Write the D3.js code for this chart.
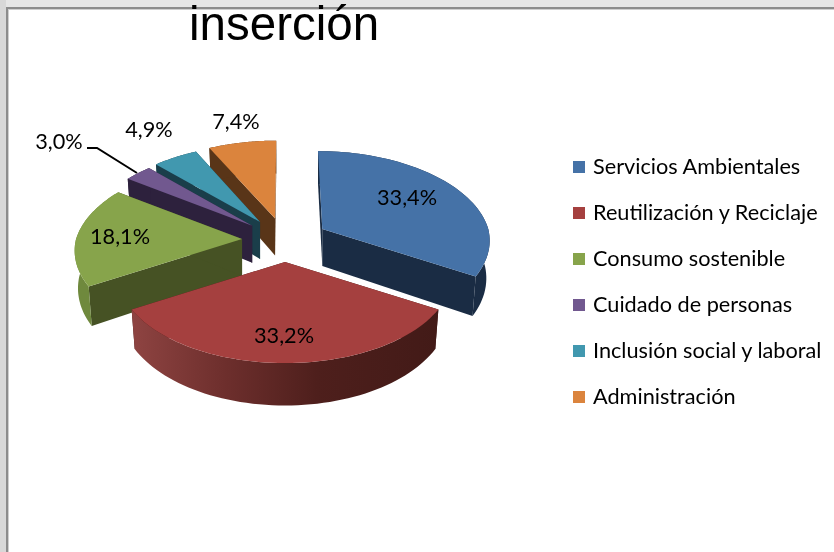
<!DOCTYPE html>
<html><head><meta charset="utf-8">
<script src="https://cdnjs.cloudflare.com/ajax/libs/d3/7.8.5/d3.min.js"></script>
<style>html,body{margin:0;padding:0;background:#fff}svg{display:block;filter:blur(0.4px)}</style>
</head><body><svg id="c" width="834" height="552"></svg>
<script>
const categories = ["Servicios Ambientales","Reutilización y Reciclaje","Consumo sostenible","Cuidado de personas","Inclusión social y laboral","Administración"];
const values = [33.4,33.2,18.1,3.0,4.9,7.4];
const valueLabels = ["33,4%","33,2%","18,1%","3,0%","4,9%","7,4%"];
const topColors = ["#4572A7","#A5403F","#87A44B","#71588F","#4198AF","#DB843D"];
const sideColors = ["#1A2C44","#431A17","#465224","#2D213D","#1A3E4A","#593518"];
const wallColors = ["#1A2C44","url(#redWall)","#6F893D","#2D213D","#1A3E4A","#593518"];
const title = "inserción";
const labelAnchors = [[407,198],[284,336],[120,237],[59,142],[149,130],[236,122]];
const drawOrder = [5,4,3,2,0,1];

const svg = d3.select("#c");
const defs = svg.append("defs");
const g = defs.append("linearGradient").attr("id","redWall").attr("gradientUnits","userSpaceOnUse")
  .attr("x1",-155).attr("x2",157).attr("y1",0).attr("y2",0);
[[0,"#8F4442"],[0.3,"#6E2F2D"],[0.6,"#4E1F1C"],[1,"#421A17"]].forEach(s=>g.append("stop").attr("offset",s[0]).attr("stop-color",s[1]));

// window chrome
svg.append("rect").attr("width",834).attr("height",7).attr("fill","#E6E6E6");
svg.append("rect").attr("width",6).attr("height",552).attr("fill","#D8D8D8");
svg.append("rect").attr("x",8).attr("y",9).attr("width",826).attr("height",1).attr("fill","#CFCFCF");
svg.append("rect").attr("x",8).attr("y",9).attr("width",1).attr("height",543).attr("fill","#CFCFCF");
svg.append("rect").attr("x",6).attr("y",7).attr("width",2).attr("height",545).attr("fill","#8C8C8C");
svg.append("rect").attr("x",6).attr("y",7).attr("width",828).attr("height",2).attr("fill","#8C8C8C");

// pie in perspective
const cx=285, cy=240, R=166, Ry=88, k=0.129, depth=37, Ex=43, Ey=22, bottomShrink=0.98;
const pie = d3.pie().sort(null).value(d=>d)(values);
const proj=(a,r,level,dx)=>{ // a: clockwise from 12 o'clock, r: 0..1, level: 0 top, 1 bottom
  const u=Math.sin(a)*r, v=-Math.cos(a)*r, w=1/(1-k*v);
  const sh=level?bottomShrink:1;
  return [R*u*w*sh + dx*(Math.min(w,1)-1), Ry*v*w+level*depth*w];
};
const line=d3.line();
pie.forEach(p=>{p.mid=(p.startAngle+p.endAngle)/2;
  p.dx=Ex*Math.sin(p.mid); p.ox=cx+p.dx; p.oy=cy-Ey*Math.cos(p.mid);});
const sample=(p)=>d3.range(0,61).map(i=>p.startAngle+(p.endAngle-p.startAngle)*i/60);

const layer=svg.append("g");
drawOrder.forEach(i=>{
  const p=pie[i], s=layer.append("g").attr("transform",`translate(${p.ox},${p.oy})`);
  const A=sample(p);
  const face=a=>[proj(a,0,0,p.dx),proj(a,1,0,p.dx),proj(a,1,1,p.dx),proj(a,0,1,p.dx)];
  s.append("path").attr("d",line(face(p.startAngle))+"Z").attr("fill",sideColors[i]);
  s.append("path").attr("d",line(face(p.endAngle))+"Z").attr("fill",sideColors[i]);
  const wall=A.map(a=>proj(a,1,0,p.dx)).concat(A.slice().reverse().map(a=>proj(a,1,1,p.dx)));
  s.append("path").attr("d",line(wall)+"Z").attr("fill",wallColors[i]);
  const top=[proj(0,0,0,p.dx)].concat(A.map(a=>proj(a,1,0,p.dx)));
  s.append("path").attr("d",line(top)+"Z").attr("fill",topColors[i]);
});

// leader line for the 3,0% label
svg.append("path").attr("d",line([[87,148],[97,148],[137,173]])).attr("fill","none").attr("stroke","#000").attr("stroke-width",2);

// value labels
svg.append("g").selectAll("text").data(valueLabels).join("text")
  .attr("x",(d,i)=>labelAnchors[i][0]).attr("y",(d,i)=>labelAnchors[i][1]+7)
  .attr("text-anchor","middle").attr("font-family","Lato").attr("font-size",21.7).attr("fill","#000").text(d=>d);

// legend
const ly=d3.scalePoint().domain(categories).range([167,397]);
const leg=svg.append("g").selectAll("g").data(categories).join("g").attr("transform",d=>`translate(573,${ly(d)})`);
leg.append("rect").attr("y",-6).attr("width",12).attr("height",12).attr("fill",(d,i)=>topColors[i]);
leg.append("text").attr("x",20).attr("y",7).attr("font-family","Lato").attr("font-size",21.7).attr("fill","#000").text(d=>d);

// title
svg.append("text").attr("x",189).attr("y",40).attr("font-family","Liberation Sans").attr("font-size",47.5).attr("fill","#000").text(title);
</script></body></html>
